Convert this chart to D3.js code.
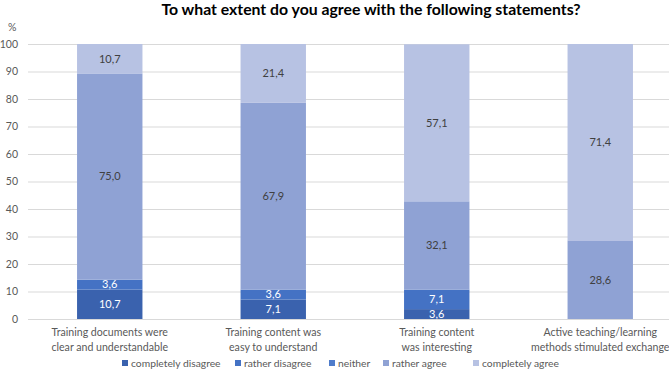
<!DOCTYPE html>
<html>
<head>
<meta charset="utf-8">
<script src="https://cdn.jsdelivr.net/npm/d3@7"></script>
<style>
  body { margin: 0; background: #fff; }
  svg { display: block; font-family: Lato, "Open Sans", sans-serif; }
</style>
</head>
<body>
<svg id="chart" width="669" height="372"></svg>
<script>
const categories = [
  ["Training documents were", "clear and understandable"],
  ["Training content was", "easy to understand"],
  ["Training content", "was interesting"],
  ["Active teaching/learning", "methods stimulated exchange"]
];
const seriesNames = ["completely disagree", "rather disagree", "neither", "rather agree", "completely agree"];
const completelyDisagree = [10.7, 7.1, 3.6, 0];
const ratherDisagree = [3.6, 3.6, 7.1, 0];
const neither = [0, 0, 0, 0];
const ratherAgree = [75.0, 67.9, 32.1, 28.6];
const completelyAgree = [10.7, 21.4, 57.1, 71.4];
const yTicks = [0, 10, 20, 30, 40, 50, 60, 70, 80, 90, 100];
const colors = ["#3A62AE", "#4472C4", "#4F7CCB", "#8FA2D4", "#B7C2E3"];
const labelColors = ["#ffffff", "#ffffff", "#ffffff", "#404040", "#404040"];

const values = [completelyDisagree, ratherDisagree, neither, ratherAgree, completelyAgree];
const rows = categories.map((c, i) => {
  const r = { cat: i };
  seriesNames.forEach((s, j) => r[s] = values[j][i]);
  return r;
});

const svg = d3.select("#chart");
const x = d3.scaleBand().domain(d3.range(categories.length)).range([28, 682]).paddingInner(0.6).paddingOuter(0.3);
const y = d3.scaleLinear().domain([0, 100]).range([319, 44]);

// gridlines
svg.append("g").selectAll("line").data(yTicks).join("line")
  .attr("x1", 28).attr("x2", 669)
  .attr("y1", d => y(d) + 0.5).attr("y2", d => y(d) + 0.5)
  .attr("stroke", "#d9d9d9").attr("stroke-width", 1);

// y tick labels
svg.append("g").selectAll("text").data(yTicks).join("text")
  .attr("x", 18).attr("y", d => y(d)).attr("dy", "0.35em")
  .attr("text-anchor", "end").attr("font-size", 10.5).attr("fill", "#595959")
  .text(d => d);

svg.append("text").attr("x", 8).attr("y", 31).attr("font-size", 10.5).attr("fill", "#595959").text("%");

// title
svg.append("text").attr("x", 371).attr("y", 15).attr("text-anchor", "middle")
  .attr("font-size", 15.8).attr("font-weight", "bold").attr("fill", "#000")
  .text("To what extent do you agree with the following statements?");

const stack = d3.stack().keys(seriesNames)(rows);
const fmt = v => d3.format(".1f")(v).replace(".", ",");

const layers = svg.append("g").selectAll("g").data(stack).join("g")
  .attr("fill", (d, i) => colors[i]);
layers.selectAll("rect").data(d => d).join("rect")
  .attr("x", d => x(d.data.cat))
  .attr("width", x.bandwidth())
  .attr("y", d => y(d[1]))
  .attr("height", d => y(d[0]) - y(d[1]));

const lab = svg.append("g");
stack.forEach((layer, i) => {
  layer.forEach(d => {
    const v = d[1] - d[0];
    if (v <= 0) return;
    lab.append("text")
      .attr("x", x(d.data.cat) + x.bandwidth() / 2)
      .attr("y", y((d[0] + d[1]) / 2))
      .attr("dy", "0.35em")
      .attr("text-anchor", "middle")
      .attr("font-size", 11)
      .attr("fill", labelColors[i])
      .text(fmt(d.data[seriesNames[i]]));
  });
});

// category labels
const cl = svg.append("g").selectAll("text").data(categories).join("text")
  .attr("text-anchor", "middle").attr("font-size", 10.6).attr("fill", "#595959");
cl.each(function(d, i) {
  const t = d3.select(this);
  d.forEach((line, k) => {
    t.append("tspan").attr("x", x(i) + x.bandwidth() / 2).attr("y", 336 + k * 15).text(line);
  });
});

// legend
const legX = [122, 235, 329, 383, 473];
const leg = svg.append("g").selectAll("g").data(seriesNames).join("g")
  .attr("transform", (d, i) => `translate(${legX[i]},364)`);
leg.append("rect").attr("x", 0).attr("y", -4).attr("width", 6).attr("height", 6)
  .attr("fill", (d, i) => colors[i]);
leg.append("text").attr("x", 9).attr("y", 0).attr("dy", "0.3em")
  .attr("font-size", 10.3).attr("fill", "#595959").text(d => d);
</script>
</body>
</html>
